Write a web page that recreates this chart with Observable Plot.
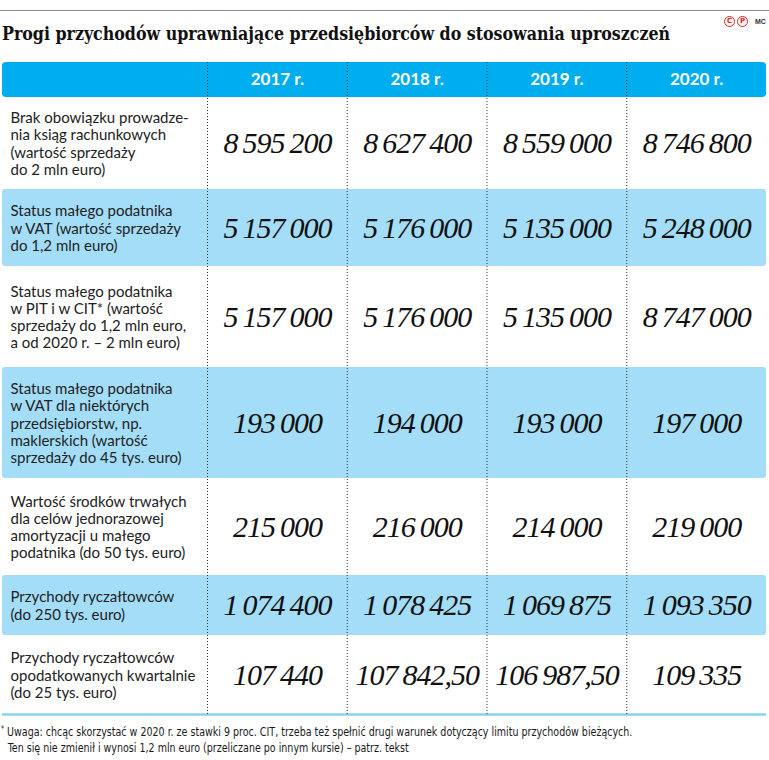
<!DOCTYPE html>
<html><head><meta charset="utf-8">
<script src="https://cdn.jsdelivr.net/npm/d3@7"></script>
<script src="https://cdn.jsdelivr.net/npm/@observablehq/plot@0.6"></script>
<style>
body{margin:0;background:#fff;width:769px;height:760px;overflow:hidden;font-family:Lato,sans-serif;color:#1a1a1a;}
#top{position:relative;height:56px;}
#rule{position:absolute;left:0;right:0;top:10px;height:1px;background:#8c8c8c;}
#logo{position:absolute;left:724px;top:16px;white-space:nowrap;height:11px;}
#logo .c{display:inline-block;box-sizing:border-box;width:11px;height:11px;border:1.5px solid #e2231a;border-radius:50%;color:#e2231a;font:bold 7px "DejaVu Sans",sans-serif;line-height:8px;text-align:center;vertical-align:top;margin-right:2px;}
#logo .mc{display:inline-block;font:bold 7px "Liberation Sans",sans-serif;color:#333;margin-left:5px;vertical-align:top;line-height:11px;}
#title{position:absolute;left:2px;top:23px;font:bold 18px "DejaVu Serif",serif;color:#111;white-space:nowrap;transform-origin:0 0;}
#chart svg{display:block;}
#note{font:12.5px "DejaVu Sans Condensed",sans-serif;line-height:16px;color:#1a1a1a;margin-top:2px;padding-left:1px;white-space:nowrap;}
#note div{transform-origin:0 0;}
#note sup{font-size:8px;vertical-align:4px;}
</style>
</head><body>
<div id="top"><div id="rule"></div><div id="logo"><span class="c">C</span><span class="c">P</span><span class="mc">MC</span></div><div id="title"></div></div>
<div id="chart"></div>
<div id="note"></div>
<script>
// ---- data ----
const title = "Progi przychodów uprawniające przedsiębiorców do stosowania uproszczeń";
const years = ["2017", "2018", "2019", "2020"];
const labels = [
  "Brak obowiązku prowadze-\nnia ksiąg rachunkowych\n(wartość sprzedaży\ndo 2 mln euro)",
  "Status małego podatnika\nw VAT (wartość sprzedaży\ndo 1,2 mln euro)",
  "Status małego podatnika\nw PIT i w CIT* (wartość\nsprzedaży do 1,2 mln euro,\na od 2020 r. – 2 mln euro)",
  "Status małego podatnika\nw VAT dla niektórych\nprzedsiębiorstw, np.\nmaklerskich (wartość\nsprzedaży do 45 tys. euro)",
  "Wartość środków trwałych\ndla celów jednorazowej\namortyzacji u małego\npodatnika (do 50 tys. euro)",
  "Przychody ryczałtowców\n(do 250 tys. euro)",
  "Przychody ryczałtowców\nopodatkowanych kwartalnie\n(do 25 tys. euro)"
];
const v2017 = [8595200, 5157000, 5157000, 193000, 215000, 1074400, 107440];
const v2018 = [8627400, 5176000, 5176000, 194000, 216000, 1078425, 107842.50];
const v2019 = [8559000, 5135000, 5135000, 193000, 214000, 1069875, 106987.50];
const v2020 = [8746800, 5248000, 8747000, 197000, 219000, 1093350, 109335];
const noteLines = [
  "Uwaga: chcąc skorzystać w 2020 r. ze stawki 9 proc. CIT, trzeba też spełnić drugi warunek dotyczący limitu przychodów bieżących.",
  "Ten się nie zmienił i wynosi 1,2 mln euro (przeliczane po innym kursie) – patrz. tekst"
];

// ---- layout ----
const SVG_TOP = 56, SVG_H = 664;
const colEdges = [2, 207];
for (let k = 1; k <= 4; k++) colEdges.push(207 + k * (766 - 207) / 4);
const rowEdges = [62, 97, 189, 266, 367, 478, 575, 635, 714].map(v => v - SVG_TOP);

const series = [v2017, v2018, v2019, v2020];
const rows = labels.map((label, i) => ({i: i + 1, label}));
const cells = rows.flatMap(r => series.map((s, j) => ({row: r.i, col: j + 1, v: s[r.i - 1]})));
const loc = d3.formatLocale({decimal: ",", thousands: "\u2009", grouping: [3], currency: ["", ""]});
const fInt = loc.format(",d"), fDec = loc.format(",.2f");
const fmt = v => Number.isInteger(v) ? fInt(v) : fDec(v);

const tEl = document.getElementById("title");
tEl.textContent = title;
const noteEl = document.getElementById("note");
noteEl.innerHTML =
  "<div><sup>*</sup> " + noteLines[0] + "</div><div style='padding-left:8px'>" + noteLines[1] + "</div>";

const plot = Plot.plot({
  width: 769, height: SVG_H,
  margin: 0,
  x: {type: "linear", domain: d3.range(6), range: colEdges, axis: null},
  y: {type: "linear", domain: d3.range(9), range: rowEdges, axis: null},
  style: {fontFamily: "Lato, sans-serif", background: "white"},
  marks: [
    Plot.rect([0], {x1: 0, x2: 5, y1: 0, y2: 1, fill: "#00aeef", rx: 4}),
    Plot.rect(rows.filter(r => r.i % 2 === 0), {x1: 0, x2: 5, y1: d => d.i, y2: d => d.i + 1, fill: "#a3ddf7", rx: 3}),
    Plot.ruleY([8], {x1: 0, x2: 5, stroke: "#86d2f3", strokeWidth: 2.5}),
    Plot.ruleX([1, 2, 3, 4], {y1: 0, y2: 8, stroke: "#333", strokeWidth: 1, strokeDasharray: "1,2"}),
    Plot.text(years, {x: (d, i) => i + 1.5, y: 0.5, text: d => d + " r.", fill: "white", fontWeight: "bold", fontSize: 17}),
    Plot.text(rows, {x: 0, y: d => d.i + 0.5, text: "label", textAnchor: "start", dx: 8, fontSize: 15, lineHeight: 1.15, fill: "#222"}),
    Plot.text(cells, {x: d => d.col + 0.5, y: d => d.row + 0.5, text: d => fmt(d.v), fontFamily: "Liberation Serif", fontStyle: "italic", fontSize: 30, fill: "#111"})
  ]
});
d3.select(plot).selectAll("g[font-style=italic] text")
  .style("font-family", "'Liberation Serif', serif")
  .style("font-style", "italic")
  .attr("letter-spacing", "-1");
document.getElementById("chart").append(plot);

// fit title and footnote widths to the reference
const tw = tEl.getBoundingClientRect().width;
tEl.style.transform = `scaleX(${668 / tw})`;
const nd = noteEl.querySelectorAll("div");
const nw = nd[0].getBoundingClientRect().width;
const s = 650 / nw;
nd.forEach(d => d.style.transform = `scaleX(${s})`);
</script>
</body></html>
